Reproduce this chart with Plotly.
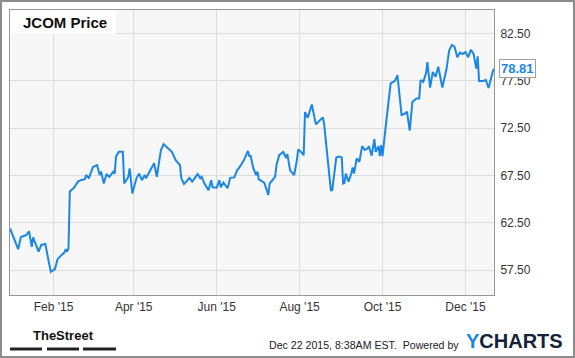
import plotly.graph_objects as go

# ---- data ----
dates = [
    "2014-12-31", "2015-01-03", "2015-01-06", "2015-01-08", "2015-01-12", "2015-01-14",
    "2015-01-16", "2015-01-17", "2015-01-21", "2015-01-23", "2015-01-26", "2015-01-28",
    "2015-01-30", "2015-02-02", "2015-02-04", "2015-02-07", "2015-02-09", "2015-02-10",
    "2015-02-11", "2015-02-12", "2015-02-13", "2015-02-16", "2015-02-19", "2015-02-21",
    "2015-02-24", "2015-02-25", "2015-02-27", "2015-03-02", "2015-03-05", "2015-03-07",
    "2015-03-08", "2015-03-10", "2015-03-12", "2015-03-14", "2015-03-17", "2015-03-18",
    "2015-03-19", "2015-03-21", "2015-03-24", "2015-03-25", "2015-03-28", "2015-03-29",
    "2015-03-31", "2015-04-03", "2015-04-05", "2015-04-07", "2015-04-09", "2015-04-10",
    "2015-04-14", "2015-04-16", "2015-04-18", "2015-04-21", "2015-04-23", "2015-04-25",
    "2015-04-29", "2015-05-02", "2015-05-05", "2015-05-06", "2015-05-08", "2015-05-10",
    "2015-05-12", "2015-05-14", "2015-05-16", "2015-05-18", "2015-05-20", "2015-05-21",
    "2015-05-23", "2015-05-26", "2015-05-28", "2015-05-29", "2015-06-01", "2015-06-03",
    "2015-06-04", "2015-06-06", "2015-06-09", "2015-06-11", "2015-06-14", "2015-06-16",
    "2015-06-18", "2015-06-19", "2015-06-21", "2015-06-24", "2015-06-25", "2015-06-26",
    "2015-06-28", "2015-06-30", "2015-07-01", "2015-07-02", "2015-07-06", "2015-07-09",
    "2015-07-10", "2015-07-14", "2015-07-15", "2015-07-17", "2015-07-20", "2015-07-22",
    "2015-07-23", "2015-07-25", "2015-07-28", "2015-07-30", "2015-07-31", "2015-08-02",
    "2015-08-04", "2015-08-05", "2015-08-07", "2015-08-10", "2015-08-13", "2015-08-16",
    "2015-08-18", "2015-08-19", "2015-08-22", "2015-08-24", "2015-08-25", "2015-08-28",
    "2015-08-30", "2015-09-01", "2015-09-02", "2015-09-03", "2015-09-04", "2015-09-06",
    "2015-09-08", "2015-09-09", "2015-09-10", "2015-09-12", "2015-09-14", "2015-09-16",
    "2015-09-18", "2015-09-20", "2015-09-21", "2015-09-23", "2015-09-25", "2015-09-26",
    "2015-09-28", "2015-09-29", "2015-09-30", "2015-10-01", "2015-10-04", "2015-10-07",
    "2015-10-10", "2015-10-12", "2015-10-15", "2015-10-17", "2015-10-19", "2015-10-21",
    "2015-10-23", "2015-10-26", "2015-10-28", "2015-10-29", "2015-10-31", "2015-11-02",
    "2015-11-03", "2015-11-05", "2015-11-07", "2015-11-09", "2015-11-11", "2015-11-14",
    "2015-11-17", "2015-11-19", "2015-11-21", "2015-11-23", "2015-11-25", "2015-11-27",
    "2015-11-29", "2015-12-01", "2015-12-03", "2015-12-05", "2015-12-07", "2015-12-09",
    "2015-12-10", "2015-12-11", "2015-12-14", "2015-12-16", "2015-12-17", "2015-12-18",
    "2015-12-21", "2015-12-22",
]
prices = [
    61.90, 60.85, 59.70, 61.00, 61.20, 61.60,
    59.95, 60.95, 59.45, 60.15, 60.25, 58.75,
    57.30, 57.60, 58.65, 59.10, 59.35, 59.70,
    59.45, 59.80, 65.80, 66.20, 66.85, 67.00,
    67.10, 67.55, 67.20, 68.40, 68.60, 67.55,
    67.90, 66.65, 67.65, 67.35, 67.90, 67.70,
    69.50, 70.00, 70.00, 66.65, 67.35, 68.25,
    65.60, 67.20, 67.70, 67.00, 67.55, 67.20,
    68.25, 68.80, 67.35, 70.20, 70.80, 70.50,
    70.00, 69.10, 68.60, 67.20, 66.60, 66.90,
    67.25, 66.85, 67.30, 67.65, 67.20, 67.35,
    66.65, 65.95, 67.00, 66.25, 66.20, 67.00,
    66.25, 66.75, 66.15, 67.25, 67.30, 68.05,
    68.40, 68.60, 69.10, 70.10, 69.55, 69.55,
    68.25, 67.55, 67.90, 67.10, 66.75, 65.45,
    66.65, 67.35, 68.60, 69.65, 70.00, 69.35,
    69.75, 68.05, 67.55, 69.10, 70.25, 70.00,
    69.65, 74.20, 73.60, 75.00, 72.90, 73.35,
    73.65, 73.00, 69.10, 65.95, 65.95, 69.40,
    69.50, 69.40, 66.65, 66.70, 67.70, 66.85,
    67.70, 68.35, 67.70, 69.30, 68.95, 70.60,
    70.20, 70.35, 70.60, 69.60, 71.35, 70.00,
    70.60, 69.55, 70.70, 69.55, 73.55, 77.25,
    77.50, 78.10, 73.90, 74.00, 74.25, 72.25,
    75.30, 75.65, 75.65, 77.60, 77.40, 78.30,
    79.50, 76.80, 78.45, 77.95, 79.00, 76.80,
    78.70, 80.70, 81.30, 81.10, 80.00, 80.50,
    80.35, 80.55, 80.00, 80.80, 80.35, 78.80,
    80.10, 77.50, 77.50, 77.60, 77.15, 76.75,
    78.45, 78.81,
]
x_tick_dates = ["2015-02-01", "2015-04-01", "2015-06-01", "2015-08-01", "2015-10-01", "2015-12-01"]
y_tick_values = [57.5, 62.5, 67.5, 72.5, 77.5, 82.5]

# ---- layout geometry ----
W, H = 575, 358
ML, MR, MT, MB = 10, 81, 10, 63
PW, PH = W - ML - MR, H - MT - MB

def px_x(px):
    return (px - ML) / PW

def px_y(py):
    return (H - MB - py) / PH

LINE_BLUE = "#1a87e4"
FONT = "Arial, Liberation Sans, sans-serif"

fig = go.Figure()
fig.add_trace(go.Scatter(
    x=dates, y=prices, mode="lines",
    line=dict(color=LINE_BLUE, width=2),
    hoverinfo="skip", showlegend=False,
))

shapes = [
    # outer frame
    dict(type="rect", xref="paper", yref="paper",
         x0=px_x(1), x1=px_x(574), y0=px_y(357), y1=px_y(1),
         line=dict(color="#8c8c8c", width=2), fillcolor="rgba(0,0,0,0)", layer="above"),
    # title box
    dict(type="rect", xref="paper", yref="paper",
         x0=px_x(10.5), x1=px_x(116), y0=px_y(34), y1=px_y(10.5),
         line=dict(width=0), fillcolor="rgba(255,255,255,0.9)", layer="above"),
]
# TheStreet logo bars
for a, b in [(10, 42), (47, 79), (83, 116)]:
    shapes.append(dict(type="rect", xref="paper", yref="paper",
                       x0=px_x(a), x1=px_x(b), y0=px_y(350.5), y1=px_y(347.5),
                       line=dict(width=0), fillcolor="#222222"))

annotations = [
    dict(text="<b>JCOM Price</b>", xref="paper", yref="paper",
         x=px_x(21), y=px_y(22), xanchor="left", yanchor="middle", showarrow=False,
         font=dict(family=FONT, size=15, color="#111111")),
    dict(text="<b>%.2f</b>" % prices[-1], x=dates[-1], y=prices[-1], xref="x", yref="y",
         xanchor="left", yanchor="middle", xshift=5, showarrow=False,
         bgcolor="#ffffff", bordercolor="#a0a0a0", borderwidth=1, borderpad=1,
         font=dict(family=FONT, size=13, color=LINE_BLUE)),
    dict(text="<b>TheStreet</b>", xref="paper", yref="paper",
         x=px_x(63), y=px_y(335), xanchor="center", yanchor="middle", showarrow=False,
         font=dict(family="Liberation Sans, Arial, sans-serif", size=13, color="#111111")),
    dict(text="Dec 22 2015, 8:38AM EST.  Powered by", xref="paper", yref="paper",
         x=px_x(267), y=px_y(345), xanchor="left", yanchor="middle", showarrow=False,
         font=dict(family=FONT, size=10.6, color="#222222")),
    dict(text="<b><span style='color:#1a87e4'>Y</span>CHARTS</b>", xref="paper", yref="paper",
         x=px_x(464), y=px_y(341), xanchor="left", yanchor="middle", showarrow=False,
         font=dict(family=FONT, size=20, color="#14233a")),
]

fig.update_layout(
    width=W, height=H,
    margin=dict(l=ML, r=MR, t=MT, b=MB),
    paper_bgcolor="#ffffff", plot_bgcolor="#f7f7f7",
    shapes=shapes, annotations=annotations,
    xaxis=dict(
        type="date", range=["2014-12-31", "2015-12-22"],
        tickvals=x_tick_dates, tickformat="%b '%y",
        showgrid=True, gridcolor="#dcdcdc", gridwidth=1,
        showline=True, linecolor="#999999", linewidth=1, mirror=True,
        ticks="outside", ticklen=1, tickcolor="rgba(0,0,0,0)",
        tickfont=dict(family=FONT, size=12, color="#333333"),
        zeroline=False, fixedrange=True,
    ),
    yaxis=dict(
        side="right", range=[54.86, 85.0],
        tickvals=y_tick_values, tickformat=".2f",
        showgrid=True, gridcolor="#dcdcdc", gridwidth=1,
        showline=True, linecolor="#999999", linewidth=1, mirror=True,
        ticks="outside", ticklen=3, tickcolor="rgba(0,0,0,0)",
        tickfont=dict(family=FONT, size=12, color="#333333"),
        zeroline=False, fixedrange=True,
    ),
)

fig.write_html("out.html")
